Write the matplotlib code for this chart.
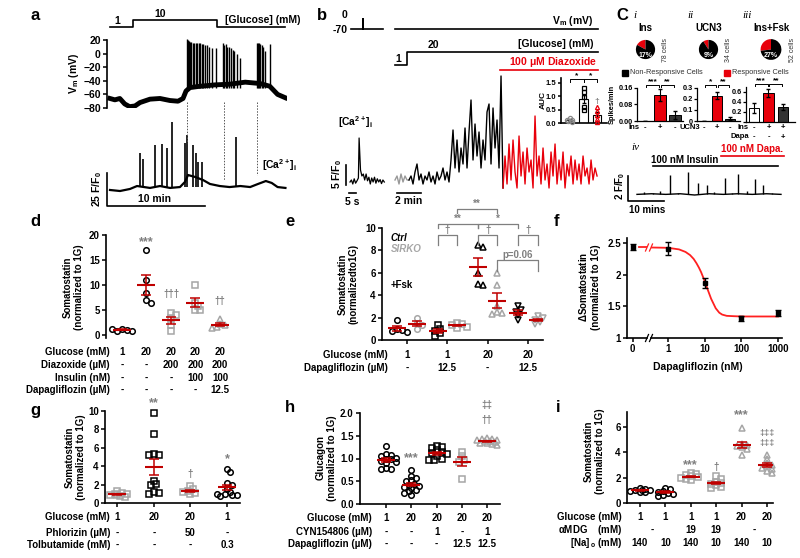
import numpy as np
import matplotlib
matplotlib.use('Agg')
import matplotlib.pyplot as plt
from matplotlib.lines import Line2D
from matplotlib.patches import Rectangle
from matplotlib.ticker import NullLocator
from matplotlib.transforms import blended_transform_factory

plt.rcParams['font.family'] = ['Liberation Sans', 'DejaVu Sans']
plt.rcParams['font.weight'] = 'bold'
plt.rcParams['font.size'] = 7
plt.rcParams['axes.linewidth'] = 1.2
plt.rcParams['mathtext.fontset'] = 'custom'
plt.rcParams['mathtext.rm'] = 'Liberation Sans:bold'
plt.rcParams['mathtext.it'] = 'Liberation Sans:bold:italic'
plt.rcParams['mathtext.bf'] = 'Liberation Sans:bold'
plt.rcParams['mathtext.default'] = 'rm'

# ---------------- data ----------------
# a: Vm trace (min, mV) and spikes
a_vm_t = [0, 0.5, 1.0, 1.5, 2.0, 2.55, 3.06, 4.08, 5.1, 6.12, 6.94, 7.45, 7.76, 8.16, 9.18, 10.7, 12.2, 13.8, 15.3, 16.3, 17.1, 17.9]
a_vm_v = [-66, -68, -66, -74, -78, -77, -72, -67, -66, -69, -70, -66, -55, -50, -48, -46, -45, -42, -44, -48, -60, -65]
a_sp_t = [7.9, 8.0, 8.1, 8.2, 8.3, 8.45, 8.6, 8.75, 8.9, 9.05, 9.2, 9.35, 9.5, 9.7, 9.9, 10.1, 10.4, 10.8,
          11.55, 11.65, 11.8, 11.95, 12.1, 12.3, 12.5, 12.7, 13.0, 13.3,
          15.0, 15.1, 15.2, 15.35, 15.5, 15.65, 15.8, 16.3]
a_sp_v = [22, 20, 18, 17, 17, 16, 16, 16, 15, 15, 15, 14, 14, 13, 12, 10, 8, 8,
          16, 12, 14, 10, 10, 8, 6, 4, 0, -6,
          16, 15, 15, 14, 12, 10, 4, 14]
# a: Ca trace (min, F/F0)
a_ca_t = [0, 1.02, 2.04, 2.76, 4.08, 5.1, 6.12, 7.14, 7.65, 7.96, 8.67, 9.49, 10.2, 11.2, 12.2, 13.3, 14.3, 15.1, 15.9, 16.5, 17.1, 17.9]
a_ca_v = [0, -0.8, 0.8, 3.1, 1.6, 3.1, 1.6, 2.3, 6.3, 11.7, 10.2, 7.8, 4.7, 3.1, 2.3, 3.1, 2.3, 4.7, 7.0, 5.5, 2.3, 1.6]
a_ca_sp_t = [3.06, 3.37, 4.59, 5.31, 5.82, 6.33, 7.65, 7.86, 8.47, 8.78, 8.98, 9.39, 12.86]
a_ca_sp_v = [28.9, 24.2, 35.2, 35.9, 32.8, 53.1, 36.7, 42.9, 35.2, 28.9, 21.9, 21.9, 41.4]
a_marks = [7.86, 11.63, 15.0]

# b: Ca trace sampled every 10 s (1 mM gray, 20 mM black, diazoxide red)
b_dt = 1 / 6
b_gray = [0, 1, -1, 1.5, -0.5, 1, 0]
b_black = [0, 1, -1, 2, 4, 0, 1.5, -1, 1, 0, 2, -0.5, 1, -1, 2, 0, 1, 3, 0, 2, -0.5, 5, 12.5, 3,
           10, 2, 8, 4, 13, 3, 12, 20, 5, 14, 6, 12, 3, 10, 5, 17, 19, 4, 18, 8, 15, 3, 26]
b_red = [-2, 6, -1, 9, 0, 10, 2, -2, 11, 1, 7, -1, 8, 2, 5, -2, 16, 1, 6, -1, 8, 0, 4, -2,
         7, 1, 9, -1, 5, 0, 7, -2, 4, 1, 6, -1, 5, 0, 4, -1, 6, 1, 3, -1, 5, 0, 3, 1]
b_single_t = [0, 1, 2, 3, 4, 5, 6, 6.5, 7.5, 8.5, 9.5, 10.5, 11.5, 12.5, 13.5, 14.5, 15.5, 16.5,
              17.5, 18.5, 19.5, 20.5, 21.5, 22.5, 23.5, 24.5]
b_single_v = [0, 0.5, -0.5, 0.8, -0.3, 0.3, 1, 11, 3, 1.5, 2, 0.5, 2, 0.3, 1.2, -0.5, 1, 0,
              1.2, -0.3, 0.8, 0, 0.6, -0.4, 0.5, 0]
auc_g1 = [0.2, 0.12, 0.06, 0.02, 0.1]
auc_g2 = [1.3, 1.15, 0.96, 0.59, 0.48]
auc_g3 = [0.6, 0.45, 0.3, 0.15, 0.05]

# c: pies and spike-frequency bars
pie_names = ['Ins', 'UCN3', 'Ins+Fsk']
pie_pct = [17, 9, 27]
pie_cells = ['78 cells', '34 cells', '52 cells']
c1_vals, c1_err = [0.0, 0.125, 0.03], [0.0, 0.03, 0.02]
c2_vals, c2_err = [0.0, 0.23, 0.02], [0.0, 0.03, 0.015]
c3_vals, c3_err = [0.28, 0.58, 0.3], [0.1, 0.08, 0.06]
c_iv_base_t = [0, 4, 8, 12, 16, 20, 24, 28, 32, 36, 40]
c_iv_base_v = [0.05, 0.1, 0.05, 0.1, 0.0, 0.1, 0.05, 0.1, 0.05, 0.1, 0.05]
c_iv_sp_t = [2.0, 4.5, 6.5, 9.2, 11.5, 14.2, 16.9, 19.4, 21.5, 24.4, 26.5, 28.1, 30.5, 32.8, 35.0, 37.5]
c_iv_sp_v = [0.25, 0.2, 0.3, 1.6, 0.2, 1.84, 0.96, 0.8, 0.25, 1.36, 0.2, 1.68, 0.3, 1.28, 0.8, 0.2]

# d
d_vals = [[1.2, 1.0, 0.8, 0.9, 1.3],
          [17, 11, 8.5, 7, 6.5],
          [4.5, 4, 3.5, 2, 0.8],
          [10, 6.5, 5.8, 5, 5],
          [3.2, 2.2, 2.0, 1.6, 1.5]]
d_rows = [('Glucose (mM)', ['1', '20', '20', '20', '20']),
          ('Diazoxide (µM)', ['-', '-', '200', '200', '200']),
          ('Insulin (nM)', ['-', '-', '-', '100', '100']),
          ('Dapagliflozin (µM)', ['-', '-', '-', '-', '12.5'])]
# e (Ctrl / SIRKO pairs)
e_vals = [[1.8, 1.0, 0.9, 0.8, 0.7], [2.0, 1.5, 1.3, 1.0],
          [1.3, 1.0, 0.8, 0.6, 0.4], [1.5, 1.4, 1.3, 1.2, 1.1],
          [8.5, 8.3, 6.0, 5.0, 4.9], [6.0, 4.9, 3.0, 2.5, 2.4, 2.3],
          [3.0, 2.7, 2.5, 2.2, 1.8], [2.1, 2.0, 1.8, 1.6, 1.4]]
e_rows = [('Glucose (mM)', ['1', '1', '20', '20']),
          ('Dapagliflozin (µM)', ['-', '12.5', '-', '12.5'])]
# f
f_dose = [1, 10, 100, 1000]
f_mean = [2.41, 1.87, 1.31, 1.39]
f_err = [0.1, 0.08, 0.04, 0.05]
f_zero_mean, f_zero_err = 2.44, 0.05
f_fit_x = [0.35, 1, 2, 3, 4, 5, 6, 7, 8, 10, 12, 15, 20, 25, 30, 40, 60, 100, 1000]
f_fit_y = [2.43, 2.425, 2.40, 2.36, 2.31, 2.25, 2.18, 2.11, 2.04, 1.90, 1.77, 1.62, 1.47, 1.40, 1.37, 1.35, 1.345, 1.34, 1.34]
# g
g_vals = [[1.3, 1.1, 1.0, 0.9, 0.8, 0.7, 1.0, 0.9],
          [9.8, 7.5, 5.3, 5.2, 5.2, 2.4, 2.1, 2.0, 1.2, 1.1, 1.0],
          [1.8, 1.5, 1.3, 1.1, 1.0, 1.2],
          [3.7, 3.4, 2.2, 2.0, 1.5, 1.2, 1.0, 0.9, 0.8, 0.9, 1.0]]
g_rows = [('Glucose (mM)', ['1', '20', '20', '1']),
          ('Phlorizin (µM)', ['-', '-', '50', '-']),
          ('Tolbutamide (mM)', ['-', '-', '-', '0.3'])]
# h
h_vals = [[1.28, 1.1, 1.08, 1.05, 1.02, 1.0, 0.98, 0.95, 0.92, 0.9, 0.8, 0.78, 0.78],
          [0.74, 0.62, 0.57, 0.52, 0.5, 0.45, 0.42, 0.4, 0.38, 0.35, 0.3, 0.28, 0.25, 0.2],
          [1.27, 1.25, 1.22, 1.18, 1.15, 1.12, 1.1, 1.05, 1.0, 0.97, 0.96],
          [1.14, 1.05, 0.97, 0.92, 0.55],
          [1.45, 1.43, 1.42, 1.41, 1.4, 1.39, 1.38, 1.37, 1.35, 1.33, 1.31, 1.3]]
h_rows = [('Glucose (mM)', ['1', '20', '20', '20', '20']),
          ('CYN154806 (µM)', ['-', '-', '1', '-', '1']),
          ('Dapagliflozin (µM)', ['-', '-', '-', '12.5', '12.5'])]
# i
i_vals = [[1.2, 1.1, 1.05, 1.0, 0.95, 0.9, 0.85, 1.0],
          [1.2, 1.1, 0.95, 0.9, 0.8, 0.7, 0.6, 0.55],
          [2.4, 2.3, 2.2, 2.1, 2.05, 2.0, 1.9, 1.8],
          [2.1, 1.9, 1.7, 1.6, 1.5, 1.4, 1.3, 1.2],
          [5.9, 4.7, 4.6, 4.5, 4.4, 4.3, 3.8],
          [3.8, 3.5, 3.2, 3.0, 2.9, 2.8, 2.7, 2.5, 2.4]]
i_glc = ['1', '1', '1', '1', '20', '20']
i_mdg = ['-', '19', '19', '-']
i_na = ['140', '10', '140', '10', '140', '10']

RED = '#c00000'
BRED = '#e8000b'
GRAY = '#a6a6a6'
SIG = '#7f7f7f'
W, H = 800, 558

fig = plt.figure(figsize=(8, 5.58), dpi=100)


def box(x0, y0, x1, y1):
    return fig.add_axes([x0 / W, 1 - y1 / H, (x1 - x0) / W, (y1 - y0) / H])


def txt(x, y, s, **kw):
    kw.setdefault('ha', 'center')
    kw.setdefault('va', 'center')
    fig.text(x / W, 1 - y / H, s, **kw)


def seg(xs, ys, **kw):
    kw.setdefault('color', 'k')
    kw.setdefault('lw', 1.2)
    fig.add_artist(Line2D([x / W for x in xs], [1 - y / H for y in ys], **kw))


def style(ax, bottom=True, fs=7):
    for s in ['top', 'right']:
        ax.spines[s].set_visible(False)
    if not bottom:
        ax.spines['bottom'].set_visible(False)
    ax.tick_params(direction='out', length=3, width=1.1, labelsize=fs, pad=1.5)


def scales(ax):
    bb = ax.get_position()
    x0, x1 = ax.get_xlim()
    y0, y1 = ax.get_ylim()
    return bb.width * W / (x1 - x0), bb.height * H / (y1 - y0)


def swarm(ax, vals, d=5.0, maxw=11):
    # simple beeswarm in pixel space, limited to +-maxw px
    sx, sy = scales(ax)
    placed, offs = [], []
    cands = [0.0]
    k = 1
    while k * d * 0.5 <= maxw:
        cands += [k * d * 0.5, -k * d * 0.5]
        k += 1
    for v in vals:
        y = v * sy
        best, bestd = 0.0, -1
        for x in cands:
            md = min([(x - px) ** 2 + (y - py) ** 2 for px, py in placed] or [1e9])
            if md >= d * d * 0.55:
                best = x
                break
            if md > bestd:
                best, bestd = x, md
        placed.append((best, y))
        offs.append(best / sx)
    return np.array(offs)


def dots(ax, xpos, groups, marks, cols):
    sx, sy = scales(ax)
    hw = 9 / sx
    for x, vals, mk, c in zip(xpos, groups, marks, cols):
        vals = np.asarray(vals, float)
        ax.plot(x + swarm(ax, vals), vals, ls='none', marker=mk, ms=4, mfc='none', mec=c,
                mew=1.1, clip_on=False, zorder=2)
        m = vals.mean()
        se = vals.std(ddof=1) / np.sqrt(len(vals))
        ax.plot([x - hw, x + hw], [m, m], color=RED, lw=1.5, zorder=3, solid_capstyle='butt')
        ax.errorbar(x, m, yerr=se, color=RED, lw=1.1, capsize=3.5, capthick=1.1, zorder=3)


def table(ax, xpos, rows, lab_x, ys, fs=7):
    tr = blended_transform_factory(ax.transData, fig.transFigure)
    for y, (label, vals) in zip(ys, rows):
        txt(lab_x, y, label, ha='right', fontsize=fs)
        for x, v in zip(xpos, vals):
            ax.text(x, 1 - y / H, v, transform=tr, ha='center', va='center', fontsize=fs)


def sig(ax, x, y, s, fs=9, color=SIG):
    ax.text(x, y, s, ha='center', va='center', color=color, fontsize=fs, clip_on=False)


def bracket(ax, x0, x1, y, h, s, color=SIG, fs=7, lw=0.9):
    ax.plot([x0, x0, x1, x1], [y - h, y, y, y - h], color=color, lw=lw, clip_on=False)
    ax.text((x0 + x1) / 2, y, s, ha='center', va='bottom', color=color, fontsize=fs, clip_on=False)


def ylab(x, y, s, fs=7):
    txt(x, y, s, rotation=90, fontsize=fs, multialignment='center', linespacing=1.15)


# ---------------- panel labels ----------------
for lx, ly, s in [(35, 15, 'a'), (322, 15, 'b'), (622, 15, 'C'), (35, 222, 'd'), (290, 222, 'e'),
                  (557, 222, 'f'), (35, 410, 'g'), (290, 408, 'h'), (558, 408, 'i')]:
    txt(lx, ly, s, fontsize=12)

# ---------------- a ----------------
seg([110, 133, 133, 217, 217, 285], [27, 27, 20, 20, 27, 27])
txt(117, 21, '1', fontsize=7.5)
txt(160, 14, '10', fontsize=7.5)
txt(225, 20, '[Glucose] (mM)', ha='left', fontsize=7.5)

axa = box(107, 40, 287, 108)
axa.set_xlim(-0.306, 18.06)
axa.set_ylim(-80, 20)
style(axa, bottom=False, fs=7.5)
axa.set_xticks([])
axa.set_yticks([-80, -60, -40, -20, 0, 20])
axa.plot(a_vm_t, a_vm_v, color='k', lw=3.5, solid_joinstyle='round')
axa.vlines(a_sp_t, -50, a_sp_v, color='k', lw=1.0, clip_on=False)
ylab(74, 73, r'V$_m$ (mV)', fs=7.5)

axa2 = box(107, 110, 287, 212)
axa2.set_xlim(-0.306, 18.06)
axa2.set_ylim(-17.2, 62.5)
axa2.axis('off')
axa2.plot(a_ca_t, a_ca_v, color='k', lw=1.6)
axa2.vlines(a_ca_sp_t, 2, a_ca_sp_v, color='k', lw=1.2)
axa2.plot([-0.31, -0.31, 9.69], [13.3, -12.3, -12.3], color='k', lw=1.2, clip_on=False)
txt(155, 199, '10 min', fontsize=7.5)
ylab(97, 189, r'25 F/F$_0$', fs=7.5)
txt(262, 165, r'[Ca$^{2+}$]$_i$', ha='left', fontsize=7.5)
for t, yb in zip(a_marks, [143, 180, 175]):
    xp = 110 + t * 9.8
    seg([xp, xp], [102, yb], color='#555555', lw=0.7, ls=(0, (1.5, 1.5)))

# ---------------- b ----------------
txt(345, 15, '0', fontsize=7.5)
txt(348, 30, '-70', ha='right', fontsize=7.5)
seg([351, 363, 363, 363, 383], [29, 29, 19, 29, 29])
seg([395, 598], [29, 29])
txt(593, 21, r'V$_m$ (mV)', ha='right', fontsize=7.5)
seg([395, 407, 407, 598], [65, 65, 52, 52])
txt(398, 59, '1', fontsize=7.5)
txt(433, 45, '20', fontsize=7.5)
txt(593, 44, '[Glucose] (mM)', ha='right', fontsize=7.5)
txt(597, 62, r'100 $\mu$M Diazoxide', ha='right', color=BRED, fontsize=7.5)
seg([500, 598], [70, 70], color=BRED, lw=1.2)

axb = box(390, 70, 600, 195)
axb.set_xlim(-0.417, 17.08)
axb.set_ylim(-3.75, 27.5)
axb.axis('off')
b_all = b_gray + b_black + b_red
b_t = np.arange(len(b_all)) * b_dt
n1, n2 = len(b_gray), len(b_gray) + len(b_black)
axb.plot(b_t[:n1 + 1], b_all[:n1 + 1], color='#999999', lw=1.0)
axb.plot(b_t[n1:n2 + 1], b_all[n1:n2 + 1], color='k', lw=1.0)
axb.plot(b_t[n2:], b_all[n2:], color=BRED, lw=1.0)
axb.plot([0.17, 2.17], [-3.25, -3.25], color='k', lw=1.2, clip_on=False)
axb.text(1.17, -5.3, '2 min', ha='center', va='center', fontsize=7.5, clip_on=False)

axb2 = box(340, 110, 390, 195)
axb2.set_xlim(-7.14, 28.57)
axb2.set_ylim(-3.25, 18)
axb2.axis('off')
axb2.plot(b_single_t, b_single_v, color='k', lw=0.9)
axb2.plot([-2.86, -2.86], [-0.75, 4.25], color='k', lw=1.2, clip_on=False)
axb2.plot([-0.7, 4.3], [-2.75, -2.75], color='k', lw=1.2, clip_on=False)
axb2.text(1.8, -4.9, '5 s', ha='center', va='center', fontsize=7.5, clip_on=False)
ylab(337, 174, r'5 F/F$_0$', fs=7.5)
txt(356, 122, r'[Ca$^{2+}$]$_i$', fontsize=7.5)

# AUC inset
axi = box(561, 78, 607, 123)
axi.set_xlim(-0.67, 2.74)
axi.set_ylim(0, 1.67)
style(axi, fs=5.5)
axi.tick_params(length=2)
axi.set_xticks([])
axi.set_yticks([0, 0.5, 1.0, 1.5])
axi.set_yticklabels(['0.0', '0.5', '1.0', '1.5'])
for k, (vals, mk, c) in enumerate(zip([auc_g1, auc_g2, auc_g3], ['o', 's', '^'], ['#888888', 'k', BRED])):
    vals = np.asarray(vals)
    se = vals.std(ddof=1) / np.sqrt(len(vals))
    axi.bar(k, vals.mean(), width=0.6, color='white', edgecolor='k', lw=0.8, zorder=1)
    axi.errorbar(k, vals.mean(), yerr=se, color='k', lw=0.8, capsize=1.5, zorder=2)
    axi.plot(k + swarm(axi, vals, d=3.5, maxw=5), vals, ls='none', marker=mk, ms=3, mfc='none',
             mec=c, mew=0.9, zorder=3, clip_on=False)
sig(axi, 2, 0.8, '†', fs=6)
bracket(axi, 0, 1, 1.62, 0.1, '*', color='k', fs=6, lw=0.7)
bracket(axi, 1, 2, 1.62, 0.1, '*', color='k', fs=6, lw=0.7)
ylab(543, 100, 'AUC', fs=6)

# ---------------- c ----------------
for x, s in [(635, 'i'), (690, 'ii'), (747, 'iii')]:
    txt(x, 15, s, family='Liberation Serif', style='italic', weight='normal', fontsize=8)
for (cx, cy, r), name, pct, cells in zip([(645.5, 49.5, 12), (708.5, 49.5, 12), (771, 49.5, 13)],
                                         pie_names, pie_pct, pie_cells):
    axp = box(cx - r, cy - r, cx + r, cy + r)
    axp.pie([pct, 100 - pct], colors=[BRED, 'k'], startangle=90, counterclock=True,
            wedgeprops=dict(linewidth=0))
    axp.set_aspect('equal')
    txt(cx, 28, name, fontsize=7)
    txt(cx, cy + 6, f'{pct}%', color='white', fontsize=5)
    txt(cx + r + 8, cy, cells, rotation=90, weight='normal', color='#333333', fontsize=5)
fig.add_artist(Rectangle((622 / W, 1 - 76 / H), 6 / W, 6 / H, color='k', transform=fig.transFigure))
txt(630, 72, 'Non-Responsive Cells', ha='left', weight='normal', color='#333333', fontsize=5.3)
fig.add_artist(Rectangle((724 / W, 1 - 76 / H), 6 / W, 6 / H, color=BRED, transform=fig.transFigure))
txt(732, 72, 'Responsive Cells', ha='left', weight='normal', color='#333333', fontsize=5.3)

c_specs = [((637, 88, 683, 121), (-0.53, 2.53), (0, 0.16), [0, 0.08, 0.16], ['0.00', '0.08', '0.16'],
            c1_vals, c1_err, ['***', '**'], [('Ins', ['-', '+', '-'])]),
           ((697, 88, 740, 121), (-0.54, 2.77), (0, 0.3), [0, 0.1, 0.2, 0.3], ['0', '0.1', '0.2', '0.3'],
            c2_vals, c2_err, ['*', '**'], [('UCN3', ['-', '+', '-'])]),
           ((746, 87, 795, 122), (-0.55, 2.83), (0, 0.7), [0, 0.2, 0.4, 0.6], ['', '0.2', '0.4', '0.6'],
            c3_vals, c3_err, ['***', '**'], [('Ins', ['-', '+', '+']), ('Dapa', ['-', '-', '+'])])]
for bx, xl, yl, yt, ytl, vals, err, stars, rows in c_specs:
    axc = box(*bx)
    axc.set_xlim(*xl)
    axc.set_ylim(*yl)
    style(axc, fs=5.3)
    axc.tick_params(length=2, width=0.9, pad=1)
    for sp in axc.spines.values():
        sp.set_linewidth(0.9)
    axc.set_xticks([])
    axc.set_yticks(yt)
    axc.set_yticklabels(ytl)
    axc.bar([0, 1, 2], vals, width=0.75, color=['white', BRED, '#333333'], edgecolor='k', lw=0.7)
    axc.errorbar([0, 1, 2], vals, yerr=err, fmt='none', ecolor='k', lw=0.8, capsize=1.5)
    top = yl[1] * 1.08
    bracket(axc, 0.05, 0.95, top, yl[1] * 0.05, stars[0], color='k', fs=6, lw=0.7)
    bracket(axc, 1.05, 1.95, top, yl[1] * 0.05, stars[1], color='k', fs=6, lw=0.7)
    table(axc, [0, 1, 2], rows, bx[0] + 3, [128, 137][:len(rows)], fs=5.5)
ylab(612, 104, 'Spikes/min', fs=5.3)

txt(635, 147, 'iv', family='Liberation Serif', style='italic', weight='normal', fontsize=8)
txt(752, 149, '100 nM Dapa.', color=BRED, fontsize=7)
seg([721, 784], [156, 156], color=BRED, lw=1.2)
txt(685, 160, '100 nM Insulin', fontsize=7)
seg([653, 778], [166, 166], lw=1.2)
axiv = box(625, 165, 790, 205)
axiv.set_xlim(-3.33, 42.5)
axiv.set_ylim(-0.8, 2.4)
axiv.axis('off')
axiv.plot(c_iv_base_t, c_iv_base_v, color='k', lw=1.0)
axiv.vlines(c_iv_sp_t, 0.05, c_iv_sp_v, color='k', lw=1.0)
axiv.plot([-2.5, -2.5, 7.5], [1.52, -0.48, -0.48], color='k', lw=1.2, clip_on=False)
axiv.text(2.9, -1.2, '10 mins', ha='center', va='center', fontsize=7, clip_on=False)
ylab(620, 186, r'2 F/F$_0$', fs=7)

# ---------------- d ----------------
axd = box(106, 235, 232, 338)
axd.set_xlim(-0.653, 4.49)
axd.set_ylim(-0.6, 20)
style(axd, bottom=False)
axd.set_xticks([])
axd.set_yticks([0, 5, 10, 15, 20])
dots(axd, range(5), d_vals, ['o', 'o', 's', 's', '^'], ['k', 'k', GRAY, GRAY, GRAY])
sig(axd, 1, 18.6, '***')
sig(axd, 2, 8.2, '†††', fs=7)
sig(axd, 4, 6.8, '††', fs=7)
ylab(73, 287, 'Somatostatin\n(normalized to 1G)')
table(axd, range(5), d_rows, 110, [352, 365, 378, 390])

# ---------------- e ----------------
axe = box(382, 228, 543, 340)
axe.set_xlim(-0.617, 3.37)
axe.set_ylim(0, 10)
style(axe)
axe.set_xticks([0, 1, 2, 3])
axe.set_xticklabels([])
axe.set_yticks([0, 2, 4, 6, 8, 10])
off = 0.24
e_x = [p + s for p in range(4) for s in (-off, off)]
dots(axe, e_x, e_vals, ['o', 'o', 's', 's', '^', '^', 'v', 'v'], ['k', GRAY] * 4)
bracket(axe, 1 - off, 1 + off, 9.4, 0.9, '†')
bracket(axe, 2 - off, 2 + off, 9.4, 0.9, '†')
bracket(axe, 3 - off, 3 + off, 9.4, 0.9, '†')
bracket(axe, 1 - off, 2 - off, 10.36, 0.4, '**')
bracket(axe, 2 - off, 3 - off, 10.36, 0.4, '*')
bracket(axe, 1 + off, 2 + off, 11.7, 0.4, '**')
bracket(axe, 2 + off, 3 + off, 7.1, 0.9, 'p=0.06')
txt(391, 238, 'Ctrl', ha='left', style='italic', fontsize=7)
txt(391, 249, 'SIRKO', ha='left', style='italic', color=GRAY, fontsize=7)
txt(391, 285, '+Fsk', ha='left', fontsize=7)
ylab(348, 284, 'Somatostatin\n(normalizedto1G)')
table(axe, range(4), e_rows, 388, [355, 368])

# ---------------- f ----------------
axf0 = box(627, 238, 647, 338)
axf0.set_xlim(-0.3, 0.75)
axf0.set_ylim(1, 2.58)
style(axf0)
axf0.set_xticks([0])
axf0.set_xticklabels(['0'])
axf0.set_yticks([1, 1.5, 2, 2.5])
axf0.set_yticklabels(['1', '1.5', '2', '2.5'])
axf0.errorbar([0], [f_zero_mean], yerr=[f_zero_err], fmt='s', color='k', ms=3, lw=1, capsize=2.5)
axf0.plot([0.33, 0.75], [f_fit_y[0], f_fit_y[0]], color='#ff2020', lw=1.3)
axf = box(651, 238, 782, 338)
axf.set_xscale('log')
axf.set_xlim(0.344, 1285)
axf.set_ylim(1, 2.58)
style(axf)
axf.spines['left'].set_visible(False)
axf.set_yticks([])
axf.set_xticks(f_dose)
axf.set_xticklabels([str(v) for v in f_dose])
axf.xaxis.set_minor_locator(NullLocator())
axf.plot(f_fit_x, f_fit_y, color='#ff2020', lw=1.3)
axf.errorbar(f_dose, f_mean, yerr=f_err, fmt='s', color='k', ms=3, lw=1, capsize=2.5, zorder=3)
for yb, c in [(338, 'k'), (247.5, '#ff2020')]:
    for xb in (647, 651):
        seg([xb - 1.5, xb + 1.5], [yb + 3.5, yb - 3.5], color=c, lw=0.9)
ylab(589, 287, '$\\Delta$Somatostatin\n(normalized to 1G)')
txt(698, 367, 'Dapagliflozin (nM)', fontsize=7.5)

# ---------------- g ----------------
axg = box(105, 411, 240, 503)
axg.set_xlim(-0.33, 3.35)
axg.set_ylim(0, 10)
style(axg)
axg.set_xticks([0, 1, 2, 3])
axg.set_xticklabels([])
axg.set_yticks([0, 2, 4, 6, 8, 10])
dots(axg, range(4), g_vals, ['s', 's', 's', 'o'], [GRAY, 'k', GRAY, 'k'])
sig(axg, 1, 10.9, '**')
sig(axg, 2, 3.15, '†', fs=7)
sig(axg, 3, 4.8, '*')
ylab(75, 457, 'Somatostatin\n(normalized to 1G)')
table(axg, range(4), g_rows, 110, [517, 533, 545])

# ---------------- h ----------------
axh = box(360, 413, 500, 504)
axh.set_xlim(-1.03, 4.51)
axh.set_ylim(0, 2)
style(axh)
axh.set_xticks(range(5))
axh.set_xticklabels([])
axh.set_yticks([0, 0.5, 1, 1.5, 2])
axh.set_yticklabels(['0.0', '0.5', '1.0', '1.5', '2.0'])
dots(axh, range(5), h_vals, ['o', 'o', 's', 's', '^'], ['k', 'k', 'k', GRAY, GRAY])
sig(axh, 1, 1.01, '***')
sig(axh, 4, 2.18, '‡‡', fs=7)
sig(axh, 4, 1.85, '††', fs=7)
ylab(326, 458, 'Glucagon\n(normalized to 1G)')
table(axh, range(5), h_rows, 372, [518, 532, 544])

# ---------------- i ----------------
axi2 = box(627, 412, 773, 503)
axi2.set_xlim(-0.51, 5.24)
axi2.set_ylim(0, 7.2)
style(axi2)
axi2.set_xticks(range(6))
axi2.set_xticklabels([])
axi2.set_yticks([0, 2, 4, 6])
dots(axi2, range(6), i_vals, ['o', 'o', 's', 's', '^', '^'], ['k', 'k', GRAY, GRAY, GRAY, GRAY])
sig(axi2, 2, 3.0, '***')
sig(axi2, 3, 2.84, '†', fs=7)
sig(axi2, 4, 6.95, '***')
sig(axi2, 5, 5.5, '‡‡‡', fs=6.5)
sig(axi2, 5, 4.72, '‡‡‡', fs=6.5)
ylab(594, 451, 'Somatostatin\n(normalized to 1G)')
table(axi2, range(6), [('Glucose (mM)', i_glc)], 622, [517])
table(axi2, [0.5, 2, 3, 4.5], [('$\\alpha$MDG    (mM)', i_mdg)], 622, [530])
table(axi2, range(6), [('[Na]$_{\\,o}$ (mM)', i_na)], 622, [543])

fig.savefig('out.png', dpi=100)
